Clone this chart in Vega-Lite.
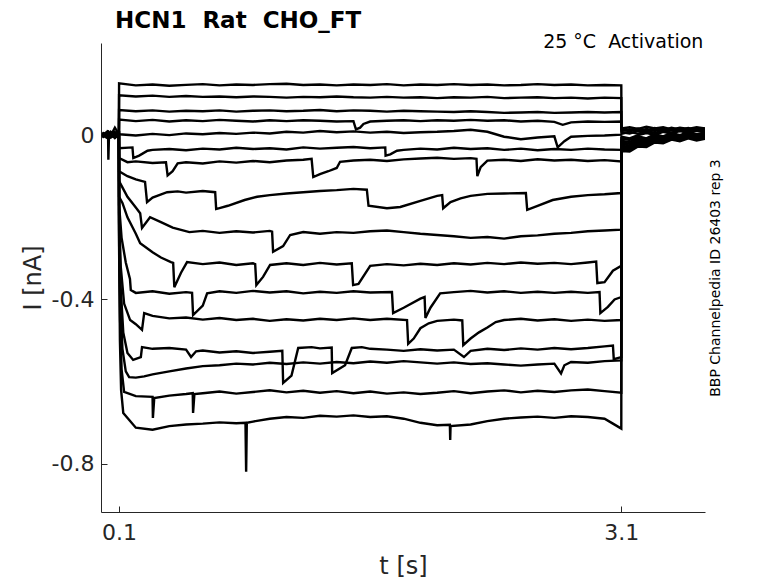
{
  "$schema": "https://vega.github.io/schema/vega-lite/v6.json",
  "width": 604,
  "height": 469,
  "autosize": {"type": "none"},
  "padding": {"left": 101, "top": 43, "right": 73, "bottom": 71},
  "background": "white",
  "title": {
    "text": "HCN1\u00a0 Rat\u00a0 CHO_FT",
    "anchor": "start",
    "frame": "group",
    "dx": 14,
    "offset": 0,
    "font": "DejaVu Sans",
    "fontSize": 23,
    "fontWeight": "bold",
    "color": "#000000"
  },
  "config": {
    "view": {"stroke": null},
    "font": "DejaVu Sans",
    "axis": {
      "grid": false,
      "domainColor": "#262626",
      "tickColor": "#262626",
      "labelColor": "#262626",
      "titleColor": "#262626",
      "labelFont": "DejaVu Sans",
      "titleFont": "DejaVu Sans",
      "labelFontSize": 22,
      "titleFontSize": 24,
      "titleFontWeight": "normal",
      "domainWidth": 1,
      "tickWidth": 1
    }
  },
  "resolve": {"axis": {"y": "independent"}},
  "layer": [
    {
      "data": {"values": [
        {"k":1,"t":0,"i":0.004},{"k":1,"t":0.025,"i":-0.003},{"k":1,"t":0.05,"i":0.006},{"k":1,"t":0.075,"i":-0.002},{"k":1,"t":0.099,"i":0.003},
        {"k":1,"t":0.1,"i":0.126},{"k":1,"t":0.2,"i":0.121},{"k":1,"t":0.3,"i":0.123},{"k":1,"t":0.4,"i":0.120},{"k":1,"t":0.5,"i":0.122},{"k":1,"t":0.6,"i":0.124},{"k":1,"t":0.7,"i":0.121},{"k":1,"t":0.8,"i":0.123},{"k":1,"t":0.9,"i":0.122},{"k":1,"t":1.0,"i":0.124},{"k":1,"t":1.1,"i":0.125},{"k":1,"t":1.2,"i":0.122},{"k":1,"t":1.3,"i":0.123},{"k":1,"t":1.4,"i":0.121},{"k":1,"t":1.5,"i":0.123},{"k":1,"t":1.6,"i":0.122},{"k":1,"t":1.7,"i":0.124},{"k":1,"t":1.8,"i":0.121},{"k":1,"t":1.9,"i":0.123},{"k":1,"t":2.0,"i":0.122},{"k":1,"t":2.1,"i":0.124},{"k":1,"t":2.2,"i":0.122},{"k":1,"t":2.3,"i":0.123},{"k":1,"t":2.4,"i":0.121},{"k":1,"t":2.5,"i":0.122},{"k":1,"t":2.6,"i":0.124},{"k":1,"t":2.7,"i":0.122},{"k":1,"t":2.8,"i":0.123},{"k":1,"t":2.9,"i":0.121},{"k":1,"t":3.0,"i":0.122},{"k":1,"t":3.1,"i":0.121},
        {"k":1,"t":3.101,"i":0.016},{"k":1,"t":3.15,"i":0.019},{"k":1,"t":3.2,"i":0.015},{"k":1,"t":3.25,"i":0.020},{"k":1,"t":3.3,"i":0.016},{"k":1,"t":3.35,"i":0.019},{"k":1,"t":3.4,"i":0.014},{"k":1,"t":3.45,"i":0.018},{"k":1,"t":3.5,"i":0.015},{"k":1,"t":3.55,"i":0.019},{"k":1,"t":3.6,"i":0.016},

        {"k":2,"t":0,"i":-0.002},{"k":2,"t":0.025,"i":0.005},{"k":2,"t":0.05,"i":-0.004},{"k":2,"t":0.075,"i":0.003},{"k":2,"t":0.099,"i":-0.001},
        {"k":2,"t":0.1,"i":0.097},{"k":2,"t":0.2,"i":0.094},{"k":2,"t":0.3,"i":0.096},{"k":2,"t":0.4,"i":0.093},{"k":2,"t":0.5,"i":0.095},{"k":2,"t":0.6,"i":0.093},{"k":2,"t":0.7,"i":0.094},{"k":2,"t":0.8,"i":0.092},{"k":2,"t":0.9,"i":0.094},{"k":2,"t":1.0,"i":0.093},{"k":2,"t":1.1,"i":0.091},{"k":2,"t":1.2,"i":0.093},{"k":2,"t":1.3,"i":0.092},{"k":2,"t":1.4,"i":0.094},{"k":2,"t":1.5,"i":0.092},{"k":2,"t":1.6,"i":0.091},{"k":2,"t":1.7,"i":0.093},{"k":2,"t":1.8,"i":0.091},{"k":2,"t":1.9,"i":0.092},{"k":2,"t":2.0,"i":0.090},{"k":2,"t":2.1,"i":0.092},{"k":2,"t":2.2,"i":0.091},{"k":2,"t":2.3,"i":0.093},{"k":2,"t":2.4,"i":0.090},{"k":2,"t":2.5,"i":0.091},{"k":2,"t":2.6,"i":0.092},{"k":2,"t":2.7,"i":0.090},{"k":2,"t":2.8,"i":0.091},{"k":2,"t":2.9,"i":0.089},{"k":2,"t":3.0,"i":0.091},{"k":2,"t":3.1,"i":0.090},
        {"k":2,"t":3.101,"i":0.013},{"k":2,"t":3.15,"i":0.010},{"k":2,"t":3.2,"i":0.016},{"k":2,"t":3.25,"i":0.011},{"k":2,"t":3.3,"i":0.017},{"k":2,"t":3.35,"i":0.012},{"k":2,"t":3.4,"i":0.018},{"k":2,"t":3.45,"i":0.013},{"k":2,"t":3.5,"i":0.017},{"k":2,"t":3.55,"i":0.012},{"k":2,"t":3.6,"i":0.016},

        {"k":3,"t":0,"i":0.003},{"k":3,"t":0.025,"i":-0.005},{"k":3,"t":0.05,"i":0.002},{"k":3,"t":0.075,"i":0.006},{"k":3,"t":0.099,"i":-0.003},
        {"k":3,"t":0.1,"i":0.061},{"k":3,"t":0.2,"i":0.058},{"k":3,"t":0.3,"i":0.060},{"k":3,"t":0.4,"i":0.057},{"k":3,"t":0.5,"i":0.059},{"k":3,"t":0.6,"i":0.058},{"k":3,"t":0.7,"i":0.060},{"k":3,"t":0.8,"i":0.057},{"k":3,"t":0.9,"i":0.059},{"k":3,"t":1.0,"i":0.060},{"k":3,"t":1.1,"i":0.058},{"k":3,"t":1.2,"i":0.059},{"k":3,"t":1.3,"i":0.061},{"k":3,"t":1.4,"i":0.058},{"k":3,"t":1.5,"i":0.060},{"k":3,"t":1.6,"i":0.059},{"k":3,"t":1.7,"i":0.057},{"k":3,"t":1.8,"i":0.059},{"k":3,"t":1.9,"i":0.058},{"k":3,"t":2.0,"i":0.057},{"k":3,"t":2.1,"i":0.056},{"k":3,"t":2.2,"i":0.058},{"k":3,"t":2.3,"i":0.056},{"k":3,"t":2.4,"i":0.054},{"k":3,"t":2.5,"i":0.055},{"k":3,"t":2.6,"i":0.056},{"k":3,"t":2.7,"i":0.054},{"k":3,"t":2.8,"i":0.055},{"k":3,"t":2.9,"i":0.056},{"k":3,"t":3.0,"i":0.055},{"k":3,"t":3.1,"i":0.056},
        {"k":3,"t":3.101,"i":0.010},{"k":3,"t":3.15,"i":0.014},{"k":3,"t":3.2,"i":0.009},{"k":3,"t":3.25,"i":0.015},{"k":3,"t":3.3,"i":0.010},{"k":3,"t":3.35,"i":0.016},{"k":3,"t":3.4,"i":0.011},{"k":3,"t":3.45,"i":0.015},{"k":3,"t":3.5,"i":0.010},{"k":3,"t":3.55,"i":0.016},{"k":3,"t":3.6,"i":0.012},

        {"k":4,"t":0,"i":-0.004},{"k":4,"t":0.025,"i":0.002},{"k":4,"t":0.05,"i":-0.006},{"k":4,"t":0.075,"i":0.001},{"k":4,"t":0.099,"i":0.004},
        {"k":4,"t":0.1,"i":0.038},{"k":4,"t":0.2,"i":0.034},{"k":4,"t":0.3,"i":0.037},{"k":4,"t":0.4,"i":0.033},{"k":4,"t":0.5,"i":0.036},{"k":4,"t":0.6,"i":0.034},{"k":4,"t":0.7,"i":0.037},{"k":4,"t":0.8,"i":0.035},{"k":4,"t":0.9,"i":0.033},{"k":4,"t":1.0,"i":0.036},{"k":4,"t":1.1,"i":0.034},{"k":4,"t":1.2,"i":0.036},{"k":4,"t":1.3,"i":0.035},{"k":4,"t":1.4,"i":0.033},{"k":4,"t":1.5,"i":0.034},{"k":4,"t":1.515,"i":0.014},{"k":4,"t":1.54,"i":0.018},{"k":4,"t":1.56,"i":0.027},{"k":4,"t":1.6,"i":0.033},{"k":4,"t":1.7,"i":0.035},{"k":4,"t":1.8,"i":0.036},{"k":4,"t":1.9,"i":0.034},{"k":4,"t":2.0,"i":0.036},{"k":4,"t":2.1,"i":0.035},{"k":4,"t":2.2,"i":0.037},{"k":4,"t":2.3,"i":0.035},{"k":4,"t":2.4,"i":0.036},{"k":4,"t":2.5,"i":0.033},{"k":4,"t":2.6,"i":0.035},{"k":4,"t":2.7,"i":0.032},{"k":4,"t":2.75,"i":0.025},{"k":4,"t":2.8,"i":0.031},{"k":4,"t":2.9,"i":0.033},{"k":4,"t":3.0,"i":0.032},{"k":4,"t":3.1,"i":0.033},
        {"k":4,"t":3.101,"i":0.007},{"k":4,"t":3.15,"i":0.004},{"k":4,"t":3.2,"i":0.010},{"k":4,"t":3.25,"i":0.006},{"k":4,"t":3.3,"i":0.013},{"k":4,"t":3.35,"i":0.008},{"k":4,"t":3.4,"i":0.014},{"k":4,"t":3.45,"i":0.009},{"k":4,"t":3.5,"i":0.015},{"k":4,"t":3.55,"i":0.010},{"k":4,"t":3.6,"i":0.013},

        {"k":5,"t":0,"i":0.001},{"k":5,"t":0.025,"i":0.007},{"k":5,"t":0.05,"i":-0.002},{"k":5,"t":0.075,"i":0.018},{"k":5,"t":0.099,"i":0.002},
        {"k":5,"t":0.1,"i":0.002},{"k":5,"t":0.2,"i":-0.001},{"k":5,"t":0.3,"i":0.003},{"k":5,"t":0.4,"i":0.000},{"k":5,"t":0.5,"i":0.004},{"k":5,"t":0.6,"i":0.002},{"k":5,"t":0.7,"i":0.005},{"k":5,"t":0.8,"i":0.003},{"k":5,"t":0.9,"i":0.006},{"k":5,"t":1.0,"i":0.004},{"k":5,"t":1.1,"i":0.008},{"k":5,"t":1.2,"i":0.006},{"k":5,"t":1.3,"i":0.010},{"k":5,"t":1.4,"i":0.007},{"k":5,"t":1.5,"i":0.009},{"k":5,"t":1.6,"i":0.006},{"k":5,"t":1.7,"i":0.008},{"k":5,"t":1.8,"i":0.005},{"k":5,"t":1.9,"i":0.007},{"k":5,"t":2.0,"i":0.008},{"k":5,"t":2.1,"i":0.010},{"k":5,"t":2.2,"i":0.013},{"k":5,"t":2.3,"i":0.008},{"k":5,"t":2.4,"i":-0.004},{"k":5,"t":2.5,"i":-0.010},{"k":5,"t":2.6,"i":-0.006},{"k":5,"t":2.7,"i":-0.003},{"k":5,"t":2.72,"i":-0.030},{"k":5,"t":2.76,"i":-0.015},{"k":5,"t":2.8,"i":-0.004},{"k":5,"t":2.9,"i":-0.002},{"k":5,"t":3.0,"i":-0.001},{"k":5,"t":3.1,"i":0.001},
        {"k":5,"t":3.101,"i":0.003},{"k":5,"t":3.15,"i":0.008},{"k":5,"t":3.2,"i":0.003},{"k":5,"t":3.25,"i":0.010},{"k":5,"t":3.3,"i":0.005},{"k":5,"t":3.35,"i":0.012},{"k":5,"t":3.4,"i":0.006},{"k":5,"t":3.45,"i":0.013},{"k":5,"t":3.5,"i":0.007},{"k":5,"t":3.55,"i":0.012},{"k":5,"t":3.6,"i":0.008},

        {"k":6,"t":0,"i":-0.006},{"k":6,"t":0.025,"i":0.001},{"k":6,"t":0.05,"i":0.004},{"k":6,"t":0.075,"i":-0.003},{"k":6,"t":0.099,"i":0.005},
        {"k":6,"t":0.1,"i":-0.032},{"k":6,"t":0.18,"i":-0.030},{"k":6,"t":0.185,"i":-0.056},{"k":6,"t":0.22,"i":-0.050},{"k":6,"t":0.27,"i":-0.038},{"k":6,"t":0.3,"i":-0.036},{"k":6,"t":0.4,"i":-0.034},{"k":6,"t":0.5,"i":-0.037},{"k":6,"t":0.6,"i":-0.033},{"k":6,"t":0.7,"i":-0.035},{"k":6,"t":0.8,"i":-0.031},{"k":6,"t":0.9,"i":-0.034},{"k":6,"t":1.0,"i":-0.032},{"k":6,"t":1.1,"i":-0.035},{"k":6,"t":1.2,"i":-0.030},{"k":6,"t":1.3,"i":-0.033},{"k":6,"t":1.4,"i":-0.031},{"k":6,"t":1.5,"i":-0.029},{"k":6,"t":1.6,"i":-0.032},{"k":6,"t":1.69,"i":-0.030},{"k":6,"t":1.692,"i":-0.050},{"k":6,"t":1.72,"i":-0.047},{"k":6,"t":1.76,"i":-0.038},{"k":6,"t":1.8,"i":-0.036},{"k":6,"t":1.9,"i":-0.033},{"k":6,"t":2.0,"i":-0.035},{"k":6,"t":2.1,"i":-0.031},{"k":6,"t":2.2,"i":-0.034},{"k":6,"t":2.3,"i":-0.032},{"k":6,"t":2.4,"i":-0.036},{"k":6,"t":2.5,"i":-0.033},{"k":6,"t":2.6,"i":-0.037},{"k":6,"t":2.7,"i":-0.034},{"k":6,"t":2.8,"i":-0.036},{"k":6,"t":2.9,"i":-0.033},{"k":6,"t":3.0,"i":-0.035},{"k":6,"t":3.1,"i":-0.036},
        {"k":6,"t":3.101,"i":-0.004},{"k":6,"t":3.15,"i":-0.008},{"k":6,"t":3.2,"i":0.000},{"k":6,"t":3.25,"i":0.005},{"k":6,"t":3.3,"i":0.001},{"k":6,"t":3.35,"i":0.008},{"k":6,"t":3.4,"i":0.003},{"k":6,"t":3.45,"i":0.010},{"k":6,"t":3.5,"i":0.004},{"k":6,"t":3.55,"i":0.011},{"k":6,"t":3.6,"i":0.006},

        {"k":7,"t":0,"i":0.005},{"k":7,"t":0.025,"i":-0.002},{"k":7,"t":0.05,"i":0.008},{"k":7,"t":0.075,"i":-0.004},{"k":7,"t":0.099,"i":0.000},
        {"k":7,"t":0.1,"i":-0.056},{"k":7,"t":0.15,"i":-0.066},{"k":7,"t":0.2,"i":-0.064},{"k":7,"t":0.3,"i":-0.068},{"k":7,"t":0.38,"i":-0.066},{"k":7,"t":0.39,"i":-0.098},{"k":7,"t":0.42,"i":-0.088},{"k":7,"t":0.45,"i":-0.069},{"k":7,"t":0.5,"i":-0.066},{"k":7,"t":0.6,"i":-0.069},{"k":7,"t":0.7,"i":-0.064},{"k":7,"t":0.8,"i":-0.067},{"k":7,"t":0.9,"i":-0.063},{"k":7,"t":1.0,"i":-0.066},{"k":7,"t":1.1,"i":-0.062},{"k":7,"t":1.2,"i":-0.060},{"k":7,"t":1.25,"i":-0.058},{"k":7,"t":1.26,"i":-0.102},{"k":7,"t":1.3,"i":-0.095},{"k":7,"t":1.35,"i":-0.088},{"k":7,"t":1.4,"i":-0.080},{"k":7,"t":1.42,"i":-0.065},{"k":7,"t":1.5,"i":-0.062},{"k":7,"t":1.6,"i":-0.060},{"k":7,"t":1.7,"i":-0.063},{"k":7,"t":1.8,"i":-0.059},{"k":7,"t":1.9,"i":-0.057},{"k":7,"t":2.0,"i":-0.055},{"k":7,"t":2.1,"i":-0.058},{"k":7,"t":2.2,"i":-0.056},{"k":7,"t":2.235,"i":-0.058},{"k":7,"t":2.24,"i":-0.100},{"k":7,"t":2.26,"i":-0.078},{"k":7,"t":2.3,"i":-0.062},{"k":7,"t":2.4,"i":-0.060},{"k":7,"t":2.5,"i":-0.063},{"k":7,"t":2.6,"i":-0.059},{"k":7,"t":2.7,"i":-0.062},{"k":7,"t":2.8,"i":-0.060},{"k":7,"t":2.9,"i":-0.063},{"k":7,"t":3.0,"i":-0.061},{"k":7,"t":3.1,"i":-0.064},
        {"k":7,"t":3.101,"i":-0.008},{"k":7,"t":3.15,"i":-0.012},{"k":7,"t":3.2,"i":-0.003},{"k":7,"t":3.25,"i":-0.008},{"k":7,"t":3.3,"i":0.002},{"k":7,"t":3.35,"i":-0.003},{"k":7,"t":3.4,"i":0.005},{"k":7,"t":3.45,"i":0.000},{"k":7,"t":3.5,"i":0.007},{"k":7,"t":3.55,"i":0.002},{"k":7,"t":3.6,"i":0.006},

        {"k":8,"t":0,"i":0.000},{"k":8,"t":0.025,"i":0.004},{"k":8,"t":0.05,"i":-0.005},{"k":8,"t":0.075,"i":0.007},{"k":8,"t":0.099,"i":-0.004},
        {"k":8,"t":0.1,"i":-0.088},{"k":8,"t":0.15,"i":-0.100},{"k":8,"t":0.2,"i":-0.108},{"k":8,"t":0.255,"i":-0.114},{"k":8,"t":0.267,"i":-0.163},{"k":8,"t":0.3,"i":-0.152},{"k":8,"t":0.387,"i":-0.139},{"k":8,"t":0.45,"i":-0.137},{"k":8,"t":0.5,"i":-0.140},{"k":8,"t":0.6,"i":-0.136},{"k":8,"t":0.674,"i":-0.139},{"k":8,"t":0.68,"i":-0.180},{"k":8,"t":0.75,"i":-0.172},{"k":8,"t":0.85,"i":-0.158},{"k":8,"t":0.925,"i":-0.150},{"k":8,"t":1.0,"i":-0.146},{"k":8,"t":1.1,"i":-0.142},{"k":8,"t":1.2,"i":-0.139},{"k":8,"t":1.3,"i":-0.136},{"k":8,"t":1.4,"i":-0.134},{"k":8,"t":1.5,"i":-0.131},{"k":8,"t":1.58,"i":-0.133},{"k":8,"t":1.59,"i":-0.172},{"k":8,"t":1.7,"i":-0.178},{"k":8,"t":1.78,"i":-0.175},{"k":8,"t":1.9,"i":-0.160},{"k":8,"t":2.0,"i":-0.148},{"k":8,"t":2.03,"i":-0.146},{"k":8,"t":2.036,"i":-0.178},{"k":8,"t":2.08,"i":-0.163},{"k":8,"t":2.14,"i":-0.154},{"k":8,"t":2.2,"i":-0.148},{"k":8,"t":2.3,"i":-0.143},{"k":8,"t":2.4,"i":-0.142},{"k":8,"t":2.53,"i":-0.141},{"k":8,"t":2.538,"i":-0.182},{"k":8,"t":2.6,"i":-0.172},{"k":8,"t":2.69,"i":-0.158},{"k":8,"t":2.8,"i":-0.150},{"k":8,"t":2.9,"i":-0.146},{"k":8,"t":3.0,"i":-0.144},{"k":8,"t":3.1,"i":-0.141},
        {"k":8,"t":3.101,"i":-0.014},{"k":8,"t":3.15,"i":-0.017},{"k":8,"t":3.2,"i":-0.007},{"k":8,"t":3.25,"i":-0.011},{"k":8,"t":3.3,"i":-0.001},{"k":8,"t":3.35,"i":-0.006},{"k":8,"t":3.4,"i":0.004},{"k":8,"t":3.45,"i":-0.002},{"k":8,"t":3.5,"i":0.005},{"k":8,"t":3.55,"i":0.000},{"k":8,"t":3.6,"i":0.004},

        {"k":9,"t":0,"i":-0.003},{"k":9,"t":0.025,"i":0.006},{"k":9,"t":0.05,"i":0.001},{"k":9,"t":0.075,"i":-0.006},{"k":9,"t":0.099,"i":0.003},
        {"k":9,"t":0.1,"i":-0.112},{"k":9,"t":0.15,"i":-0.150},{"k":9,"t":0.2,"i":-0.176},{"k":9,"t":0.226,"i":-0.190},{"k":9,"t":0.237,"i":-0.226},{"k":9,"t":0.285,"i":-0.200},{"k":9,"t":0.35,"i":-0.212},{"k":9,"t":0.42,"i":-0.225},{"k":9,"t":0.52,"i":-0.236},{"k":9,"t":0.6,"i":-0.233},{"k":9,"t":0.7,"i":-0.238},{"k":9,"t":0.8,"i":-0.234},{"k":9,"t":0.9,"i":-0.237},{"k":9,"t":1.0,"i":-0.233},{"k":9,"t":1.014,"i":-0.235},{"k":9,"t":1.02,"i":-0.284},{"k":9,"t":1.08,"i":-0.270},{"k":9,"t":1.122,"i":-0.243},{"k":9,"t":1.2,"i":-0.236},{"k":9,"t":1.3,"i":-0.240},{"k":9,"t":1.4,"i":-0.236},{"k":9,"t":1.5,"i":-0.238},{"k":9,"t":1.6,"i":-0.234},{"k":9,"t":1.7,"i":-0.232},{"k":9,"t":1.8,"i":-0.236},{"k":9,"t":1.9,"i":-0.240},{"k":9,"t":2.0,"i":-0.243},{"k":9,"t":2.1,"i":-0.246},{"k":9,"t":2.2,"i":-0.250},{"k":9,"t":2.3,"i":-0.248},{"k":9,"t":2.4,"i":-0.252},{"k":9,"t":2.5,"i":-0.246},{"k":9,"t":2.6,"i":-0.244},{"k":9,"t":2.7,"i":-0.240},{"k":9,"t":2.8,"i":-0.238},{"k":9,"t":2.9,"i":-0.234},{"k":9,"t":3.0,"i":-0.232},{"k":9,"t":3.1,"i":-0.230},
        {"k":9,"t":3.101,"i":-0.018},{"k":9,"t":3.15,"i":-0.021},{"k":9,"t":3.2,"i":-0.011},{"k":9,"t":3.25,"i":-0.014},{"k":9,"t":3.3,"i":-0.004},{"k":9,"t":3.35,"i":-0.008},{"k":9,"t":3.4,"i":0.002},{"k":9,"t":3.45,"i":-0.004},{"k":9,"t":3.5,"i":0.003},{"k":9,"t":3.55,"i":-0.002},{"k":9,"t":3.6,"i":0.003},

        {"k":10,"t":0,"i":0.002},{"k":10,"t":0.02,"i":-0.004},{"k":10,"t":0.034,"i":0.012},{"k":10,"t":0.036,"i":-0.060},{"k":10,"t":0.04,"i":0.003},{"k":10,"t":0.07,"i":-0.005},{"k":10,"t":0.099,"i":0.004},
        {"k":10,"t":0.1,"i":-0.150},{"k":10,"t":0.12,"i":-0.165},{"k":10,"t":0.15,"i":-0.200},{"k":10,"t":0.2,"i":-0.240},{"k":10,"t":0.226,"i":-0.263},{"k":10,"t":0.3,"i":-0.285},{"k":10,"t":0.35,"i":-0.298},{"k":10,"t":0.41,"i":-0.309},{"k":10,"t":0.423,"i":-0.311},{"k":10,"t":0.43,"i":-0.370},{"k":10,"t":0.47,"i":-0.335},{"k":10,"t":0.506,"i":-0.309},{"k":10,"t":0.6,"i":-0.314},{"k":10,"t":0.7,"i":-0.310},{"k":10,"t":0.8,"i":-0.316},{"k":10,"t":0.9,"i":-0.312},{"k":10,"t":0.913,"i":-0.314},{"k":10,"t":0.92,"i":-0.365},{"k":10,"t":0.96,"i":-0.345},{"k":10,"t":1.002,"i":-0.316},{"k":10,"t":1.1,"i":-0.312},{"k":10,"t":1.2,"i":-0.316},{"k":10,"t":1.3,"i":-0.311},{"k":10,"t":1.4,"i":-0.315},{"k":10,"t":1.49,"i":-0.312},{"k":10,"t":1.498,"i":-0.365},{"k":10,"t":1.53,"i":-0.362},{"k":10,"t":1.6,"i":-0.318},{"k":10,"t":1.7,"i":-0.314},{"k":10,"t":1.8,"i":-0.317},{"k":10,"t":1.9,"i":-0.313},{"k":10,"t":2.0,"i":-0.316},{"k":10,"t":2.1,"i":-0.312},{"k":10,"t":2.2,"i":-0.315},{"k":10,"t":2.3,"i":-0.311},{"k":10,"t":2.4,"i":-0.314},{"k":10,"t":2.5,"i":-0.310},{"k":10,"t":2.6,"i":-0.313},{"k":10,"t":2.7,"i":-0.311},{"k":10,"t":2.8,"i":-0.314},{"k":10,"t":2.9,"i":-0.310},{"k":10,"t":2.95,"i":-0.308},{"k":10,"t":2.957,"i":-0.360},{"k":10,"t":3.0,"i":-0.358},{"k":10,"t":3.05,"i":-0.330},{"k":10,"t":3.1,"i":-0.318},
        {"k":10,"t":3.101,"i":-0.022},{"k":10,"t":3.15,"i":-0.025},{"k":10,"t":3.2,"i":-0.014},{"k":10,"t":3.25,"i":-0.016},{"k":10,"t":3.3,"i":-0.006},{"k":10,"t":3.35,"i":-0.009},{"k":10,"t":3.4,"i":0.001},{"k":10,"t":3.45,"i":-0.005},{"k":10,"t":3.5,"i":0.002},{"k":10,"t":3.55,"i":-0.004},{"k":10,"t":3.6,"i":0.001},

        {"k":11,"t":0,"i":0.006},{"k":11,"t":0.025,"i":-0.001},{"k":11,"t":0.05,"i":-0.004},{"k":11,"t":0.075,"i":0.005},{"k":11,"t":0.099,"i":-0.002},
        {"k":11,"t":0.1,"i":-0.170},{"k":11,"t":0.115,"i":-0.250},{"k":11,"t":0.14,"i":-0.310},{"k":11,"t":0.165,"i":-0.350},{"k":11,"t":0.17,"i":-0.377},{"k":11,"t":0.2,"i":-0.384},{"k":11,"t":0.3,"i":-0.380},{"k":11,"t":0.4,"i":-0.386},{"k":11,"t":0.5,"i":-0.382},{"k":11,"t":0.536,"i":-0.384},{"k":11,"t":0.542,"i":-0.438},{"k":11,"t":0.6,"i":-0.415},{"k":11,"t":0.626,"i":-0.385},{"k":11,"t":0.7,"i":-0.380},{"k":11,"t":0.8,"i":-0.384},{"k":11,"t":0.9,"i":-0.379},{"k":11,"t":1.0,"i":-0.383},{"k":11,"t":1.1,"i":-0.380},{"k":11,"t":1.2,"i":-0.385},{"k":11,"t":1.3,"i":-0.381},{"k":11,"t":1.4,"i":-0.384},{"k":11,"t":1.5,"i":-0.380},{"k":11,"t":1.6,"i":-0.383},{"k":11,"t":1.73,"i":-0.382},{"k":11,"t":1.737,"i":-0.433},{"k":11,"t":1.8,"i":-0.420},{"k":11,"t":1.9,"i":-0.398},{"k":11,"t":1.925,"i":-0.394},{"k":11,"t":1.93,"i":-0.445},{"k":11,"t":1.96,"i":-0.420},{"k":11,"t":2.018,"i":-0.385},{"k":11,"t":2.1,"i":-0.382},{"k":11,"t":2.2,"i":-0.379},{"k":11,"t":2.3,"i":-0.383},{"k":11,"t":2.4,"i":-0.380},{"k":11,"t":2.5,"i":-0.384},{"k":11,"t":2.6,"i":-0.381},{"k":11,"t":2.7,"i":-0.384},{"k":11,"t":2.8,"i":-0.381},{"k":11,"t":2.9,"i":-0.384},{"k":11,"t":2.97,"i":-0.382},{"k":11,"t":2.975,"i":-0.433},{"k":11,"t":3.02,"i":-0.418},{"k":11,"t":3.06,"i":-0.400},{"k":11,"t":3.1,"i":-0.394},
        {"k":11,"t":3.101,"i":-0.026},{"k":11,"t":3.15,"i":-0.029},{"k":11,"t":3.2,"i":-0.017},{"k":11,"t":3.25,"i":-0.019},{"k":11,"t":3.3,"i":-0.008},{"k":11,"t":3.35,"i":-0.011},{"k":11,"t":3.4,"i":-0.002},{"k":11,"t":3.45,"i":-0.007},{"k":11,"t":3.5,"i":0.000},{"k":11,"t":3.55,"i":-0.006},{"k":11,"t":3.6,"i":-0.001},

        {"k":12,"t":0,"i":-0.001},{"k":12,"t":0.025,"i":0.003},{"k":12,"t":0.05,"i":0.007},{"k":12,"t":0.075,"i":-0.002},{"k":12,"t":0.099,"i":0.001},
        {"k":12,"t":0.1,"i":-0.190},{"k":12,"t":0.11,"i":-0.320},{"k":12,"t":0.13,"i":-0.410},{"k":12,"t":0.166,"i":-0.450},{"k":12,"t":0.2,"i":-0.460},{"k":12,"t":0.237,"i":-0.474},{"k":12,"t":0.25,"i":-0.433},{"k":12,"t":0.3,"i":-0.440},{"k":12,"t":0.4,"i":-0.446},{"k":12,"t":0.5,"i":-0.444},{"k":12,"t":0.6,"i":-0.449},{"k":12,"t":0.7,"i":-0.445},{"k":12,"t":0.8,"i":-0.450},{"k":12,"t":0.9,"i":-0.447},{"k":12,"t":1.0,"i":-0.452},{"k":12,"t":1.1,"i":-0.448},{"k":12,"t":1.2,"i":-0.451},{"k":12,"t":1.3,"i":-0.447},{"k":12,"t":1.4,"i":-0.450},{"k":12,"t":1.5,"i":-0.446},{"k":12,"t":1.6,"i":-0.450},{"k":12,"t":1.7,"i":-0.447},{"k":12,"t":1.82,"i":-0.450},{"k":12,"t":1.827,"i":-0.508},{"k":12,"t":1.86,"i":-0.495},{"k":12,"t":1.9,"i":-0.470},{"k":12,"t":1.95,"i":-0.458},{"k":12,"t":2.0,"i":-0.452},{"k":12,"t":2.1,"i":-0.449},{"k":12,"t":2.15,"i":-0.451},{"k":12,"t":2.156,"i":-0.511},{"k":12,"t":2.2,"i":-0.495},{"k":12,"t":2.25,"i":-0.480},{"k":12,"t":2.3,"i":-0.468},{"k":12,"t":2.35,"i":-0.455},{"k":12,"t":2.4,"i":-0.450},{"k":12,"t":2.5,"i":-0.447},{"k":12,"t":2.6,"i":-0.451},{"k":12,"t":2.7,"i":-0.448},{"k":12,"t":2.8,"i":-0.452},{"k":12,"t":2.9,"i":-0.449},{"k":12,"t":3.0,"i":-0.452},{"k":12,"t":3.1,"i":-0.450},
        {"k":12,"t":3.101,"i":-0.028},{"k":12,"t":3.15,"i":-0.031},{"k":12,"t":3.2,"i":-0.020},{"k":12,"t":3.25,"i":-0.021},{"k":12,"t":3.3,"i":-0.010},{"k":12,"t":3.35,"i":-0.012},{"k":12,"t":3.4,"i":-0.004},{"k":12,"t":3.45,"i":-0.008},{"k":12,"t":3.5,"i":-0.001},{"k":12,"t":3.55,"i":-0.007},{"k":12,"t":3.6,"i":-0.002},

        {"k":13,"t":0,"i":0.002},{"k":13,"t":0.025,"i":-0.006},{"k":13,"t":0.05,"i":0.003},{"k":13,"t":0.075,"i":0.004},{"k":13,"t":0.099,"i":-0.005},
        {"k":13,"t":0.1,"i":-0.210},{"k":13,"t":0.108,"i":-0.360},{"k":13,"t":0.125,"i":-0.480},{"k":13,"t":0.15,"i":-0.530},{"k":13,"t":0.184,"i":-0.547},{"k":13,"t":0.23,"i":-0.540},{"k":13,"t":0.237,"i":-0.516},{"k":13,"t":0.3,"i":-0.520},{"k":13,"t":0.4,"i":-0.518},{"k":13,"t":0.5,"i":-0.522},{"k":13,"t":0.53,"i":-0.540},{"k":13,"t":0.56,"i":-0.526},{"k":13,"t":0.6,"i":-0.524},{"k":13,"t":0.7,"i":-0.529},{"k":13,"t":0.8,"i":-0.526},{"k":13,"t":0.9,"i":-0.530},{"k":13,"t":1.0,"i":-0.527},{"k":13,"t":1.075,"i":-0.525},{"k":13,"t":1.08,"i":-0.603},{"k":13,"t":1.13,"i":-0.585},{"k":13,"t":1.17,"i":-0.518},{"k":13,"t":1.25,"i":-0.516},{"k":13,"t":1.3,"i":-0.519},{"k":13,"t":1.37,"i":-0.517},{"k":13,"t":1.373,"i":-0.579},{"k":13,"t":1.45,"i":-0.560},{"k":13,"t":1.49,"i":-0.518},{"k":13,"t":1.55,"i":-0.516},{"k":13,"t":1.6,"i":-0.520},{"k":13,"t":1.7,"i":-0.522},{"k":13,"t":1.8,"i":-0.525},{"k":13,"t":1.9,"i":-0.521},{"k":13,"t":2.0,"i":-0.524},{"k":13,"t":2.1,"i":-0.522},{"k":13,"t":2.16,"i":-0.540},{"k":13,"t":2.2,"i":-0.525},{"k":13,"t":2.3,"i":-0.520},{"k":13,"t":2.4,"i":-0.523},{"k":13,"t":2.5,"i":-0.519},{"k":13,"t":2.6,"i":-0.522},{"k":13,"t":2.7,"i":-0.518},{"k":13,"t":2.8,"i":-0.521},{"k":13,"t":2.9,"i":-0.518},{"k":13,"t":3.0,"i":-0.514},{"k":13,"t":3.05,"i":-0.512},{"k":13,"t":3.055,"i":-0.545},{"k":13,"t":3.1,"i":-0.540},
        {"k":13,"t":3.101,"i":-0.030},{"k":13,"t":3.15,"i":-0.033},{"k":13,"t":3.2,"i":-0.022},{"k":13,"t":3.25,"i":-0.023},{"k":13,"t":3.3,"i":-0.012},{"k":13,"t":3.35,"i":-0.014},{"k":13,"t":3.4,"i":-0.006},{"k":13,"t":3.45,"i":-0.010},{"k":13,"t":3.5,"i":-0.003},{"k":13,"t":3.55,"i":-0.009},{"k":13,"t":3.6,"i":-0.004},

        {"k":14,"t":0,"i":-0.005},{"k":14,"t":0.025,"i":0.004},{"k":14,"t":0.05,"i":-0.001},{"k":14,"t":0.075,"i":0.002},{"k":14,"t":0.099,"i":0.006},
        {"k":14,"t":0.1,"i":-0.230},{"k":14,"t":0.107,"i":-0.400},{"k":14,"t":0.12,"i":-0.520},{"k":14,"t":0.14,"i":-0.575},{"k":14,"t":0.16,"i":-0.589},{"k":14,"t":0.2,"i":-0.590},{"k":14,"t":0.25,"i":-0.587},{"k":14,"t":0.3,"i":-0.582},{"k":14,"t":0.4,"i":-0.575},{"k":14,"t":0.5,"i":-0.568},{"k":14,"t":0.6,"i":-0.562},{"k":14,"t":0.7,"i":-0.560},{"k":14,"t":0.8,"i":-0.556},{"k":14,"t":0.9,"i":-0.558},{"k":14,"t":1.0,"i":-0.554},{"k":14,"t":1.1,"i":-0.557},{"k":14,"t":1.2,"i":-0.553},{"k":14,"t":1.3,"i":-0.556},{"k":14,"t":1.4,"i":-0.552},{"k":14,"t":1.5,"i":-0.555},{"k":14,"t":1.6,"i":-0.551},{"k":14,"t":1.7,"i":-0.554},{"k":14,"t":1.8,"i":-0.550},{"k":14,"t":1.9,"i":-0.553},{"k":14,"t":2.0,"i":-0.556},{"k":14,"t":2.1,"i":-0.553},{"k":14,"t":2.2,"i":-0.557},{"k":14,"t":2.3,"i":-0.555},{"k":14,"t":2.4,"i":-0.558},{"k":14,"t":2.5,"i":-0.561},{"k":14,"t":2.6,"i":-0.558},{"k":14,"t":2.7,"i":-0.556},{"k":14,"t":2.74,"i":-0.580},{"k":14,"t":2.76,"i":-0.560},{"k":14,"t":2.8,"i":-0.552},{"k":14,"t":2.9,"i":-0.554},{"k":14,"t":3.0,"i":-0.550},{"k":14,"t":3.1,"i":-0.548},
        {"k":14,"t":3.101,"i":-0.033},{"k":14,"t":3.15,"i":-0.035},{"k":14,"t":3.2,"i":-0.024},{"k":14,"t":3.25,"i":-0.025},{"k":14,"t":3.3,"i":-0.014},{"k":14,"t":3.35,"i":-0.016},{"k":14,"t":3.4,"i":-0.008},{"k":14,"t":3.45,"i":-0.012},{"k":14,"t":3.5,"i":-0.005},{"k":14,"t":3.55,"i":-0.010},{"k":14,"t":3.6,"i":-0.006},

        {"k":15,"t":0,"i":0.003},{"k":15,"t":0.025,"i":0.000},{"k":15,"t":0.05,"i":0.005},{"k":15,"t":0.075,"i":-0.007},{"k":15,"t":0.099,"i":0.001},
        {"k":15,"t":0.1,"i":-0.250},{"k":15,"t":0.106,"i":-0.450},{"k":15,"t":0.115,"i":-0.570},{"k":15,"t":0.13,"i":-0.625},{"k":15,"t":0.2,"i":-0.635},{"k":15,"t":0.3,"i":-0.637},{"k":15,"t":0.302,"i":-0.688},{"k":15,"t":0.31,"i":-0.640},{"k":15,"t":0.4,"i":-0.634},{"k":15,"t":0.5,"i":-0.630},{"k":15,"t":0.54,"i":-0.628},{"k":15,"t":0.542,"i":-0.676},{"k":15,"t":0.55,"i":-0.630},{"k":15,"t":0.6,"i":-0.628},{"k":15,"t":0.7,"i":-0.624},{"k":15,"t":0.8,"i":-0.629},{"k":15,"t":0.9,"i":-0.625},{"k":15,"t":1.0,"i":-0.621},{"k":15,"t":1.1,"i":-0.626},{"k":15,"t":1.2,"i":-0.622},{"k":15,"t":1.3,"i":-0.627},{"k":15,"t":1.4,"i":-0.623},{"k":15,"t":1.5,"i":-0.628},{"k":15,"t":1.6,"i":-0.624},{"k":15,"t":1.7,"i":-0.629},{"k":15,"t":1.8,"i":-0.626},{"k":15,"t":1.9,"i":-0.630},{"k":15,"t":2.0,"i":-0.627},{"k":15,"t":2.1,"i":-0.623},{"k":15,"t":2.2,"i":-0.628},{"k":15,"t":2.3,"i":-0.624},{"k":15,"t":2.4,"i":-0.621},{"k":15,"t":2.5,"i":-0.626},{"k":15,"t":2.6,"i":-0.622},{"k":15,"t":2.7,"i":-0.625},{"k":15,"t":2.8,"i":-0.621},{"k":15,"t":2.9,"i":-0.619},{"k":15,"t":3.0,"i":-0.623},{"k":15,"t":3.1,"i":-0.627},
        {"k":15,"t":3.101,"i":-0.036},{"k":15,"t":3.15,"i":-0.037},{"k":15,"t":3.2,"i":-0.026},{"k":15,"t":3.25,"i":-0.027},{"k":15,"t":3.3,"i":-0.016},{"k":15,"t":3.35,"i":-0.018},{"k":15,"t":3.4,"i":-0.010},{"k":15,"t":3.45,"i":-0.013},{"k":15,"t":3.5,"i":-0.006},{"k":15,"t":3.55,"i":-0.011},{"k":15,"t":3.6,"i":-0.007},

        {"k":16,"t":0,"i":0.000},{"k":16,"t":0.025,"i":-0.003},{"k":16,"t":0.05,"i":0.002},{"k":16,"t":0.075,"i":0.005},{"k":16,"t":0.099,"i":-0.002},
        {"k":16,"t":0.1,"i":-0.270},{"k":16,"t":0.105,"i":-0.500},{"k":16,"t":0.112,"i":-0.620},{"k":16,"t":0.125,"i":-0.676},{"k":16,"t":0.2,"i":-0.712},{"k":16,"t":0.3,"i":-0.717},{"k":16,"t":0.4,"i":-0.708},{"k":16,"t":0.5,"i":-0.704},{"k":16,"t":0.6,"i":-0.702},{"k":16,"t":0.7,"i":-0.699},{"k":16,"t":0.8,"i":-0.701},{"k":16,"t":0.855,"i":-0.700},{"k":16,"t":0.859,"i":-0.819},{"k":16,"t":0.863,"i":-0.700},{"k":16,"t":0.9,"i":-0.697},{"k":16,"t":1.0,"i":-0.690},{"k":16,"t":1.1,"i":-0.686},{"k":16,"t":1.2,"i":-0.688},{"k":16,"t":1.3,"i":-0.683},{"k":16,"t":1.4,"i":-0.685},{"k":16,"t":1.5,"i":-0.682},{"k":16,"t":1.6,"i":-0.686},{"k":16,"t":1.7,"i":-0.684},{"k":16,"t":1.8,"i":-0.690},{"k":16,"t":1.9,"i":-0.700},{"k":16,"t":2.0,"i":-0.706},{"k":16,"t":2.076,"i":-0.705},{"k":16,"t":2.078,"i":-0.742},{"k":16,"t":2.08,"i":-0.708},{"k":16,"t":2.2,"i":-0.704},{"k":16,"t":2.3,"i":-0.696},{"k":16,"t":2.4,"i":-0.690},{"k":16,"t":2.5,"i":-0.687},{"k":16,"t":2.6,"i":-0.685},{"k":16,"t":2.7,"i":-0.688},{"k":16,"t":2.8,"i":-0.684},{"k":16,"t":2.9,"i":-0.686},{"k":16,"t":3.0,"i":-0.690},{"k":16,"t":3.05,"i":-0.702},{"k":16,"t":3.1,"i":-0.714},
        {"k":16,"t":3.101,"i":-0.039},{"k":16,"t":3.15,"i":-0.040},{"k":16,"t":3.2,"i":-0.028},{"k":16,"t":3.25,"i":-0.029},{"k":16,"t":3.3,"i":-0.018},{"k":16,"t":3.35,"i":-0.020},{"k":16,"t":3.4,"i":-0.011},{"k":16,"t":3.45,"i":-0.015},{"k":16,"t":3.5,"i":-0.008},{"k":16,"t":3.55,"i":-0.013},{"k":16,"t":3.6,"i":-0.009}
      ]},
      "mark": {"type": "line", "color": "#000000", "strokeWidth": 2.4, "clip": true},
      "encoding": {
        "x": {
          "field": "t",
          "type": "quantitative",
          "scale": {"domain": [-0.008, 3.6], "nice": false, "zero": false},
          "axis": {"values": [0.1, 3.1], "format": ".1f", "title": "t [s]", "tickSize": -6, "labelPadding": 16, "titlePadding": 11}
        },
        "y": {
          "field": "i",
          "type": "quantitative",
          "scale": {"domain": [-0.917, 0.224], "nice": false, "zero": false},
          "axis": {"values": [0, -0.4, -0.8], "labelExpr": "datum.value < 0 ? '-' + format(-datum.value, '~g') : format(datum.value, '~g')", "title": "I [nA]", "tickSize": -6, "labelPadding": 13, "titlePadding": 6}
        },
        "detail": {"field": "k", "type": "nominal"}
      }
    },
    {
      "data": {"values": [{"label": "25 °C\u00a0 Activation"}]},
      "mark": {"type": "text", "align": "right", "baseline": "alphabetic", "fontSize": 19, "font": "DejaVu Sans", "color": "#000000"},
      "encoding": {
        "x": {"datum": 3.59, "type": "quantitative"},
        "y": {
          "datum": 0.212,
          "type": "quantitative",
          "axis": {"orient": "right", "title": "BBP Channelpedia ID 26403 rep 3", "titleAngle": 270, "titleFontSize": 14, "titleColor": "#000000", "labels": false, "ticks": false, "domain": false, "titlePadding": 17}
        },
        "text": {"field": "label"}
      }
    }
  ]
}
